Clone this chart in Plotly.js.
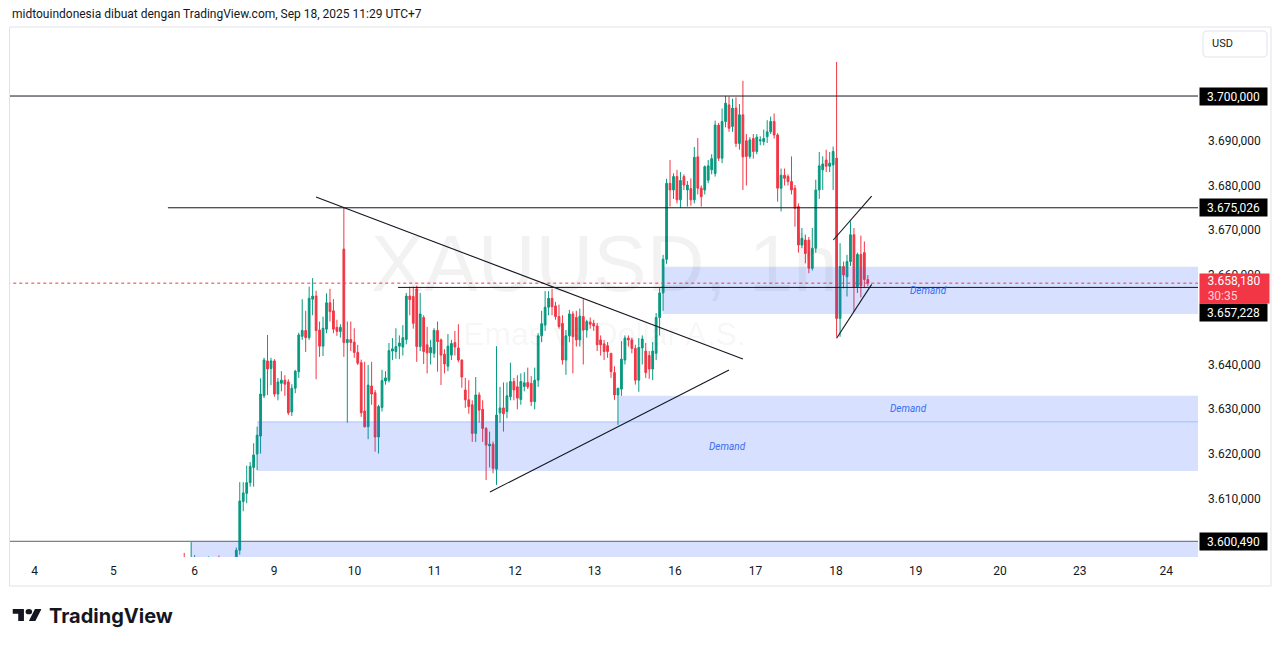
<!DOCTYPE html>
<html><head><meta charset="utf-8">
<script src="https://cdn.plot.ly/plotly-3.0.1.min.js"></script>
<style>html,body{margin:0;padding:0;background:#fff;overflow:hidden}#chart{width:1281px;height:646px}</style>
</head><body><div id="chart"></div>
<script>
// ---------- DATA (XAUUSD 1h) ----------
const firstBar = 40; // candle index of first bar
const openP = [3588,3590,3593,3591,3593,3595.5,3596.5,3595.5,3594,3595,3596.5,3595,3593.5,3592,3593,3594,3593,3595,3598.5,3609.4,
3611.2,3613.6,3617.0,3620.0,3624.0,3633.0,3640.8,3639.1,3640.8,3633.4,3635.8,3636.5,3636.1,3629.4,3634.7,3638.4,3646.3,3647.6,3646.0,3654.6,
3655.3,3647.7,3644.1,3647.9,3653.8,3652.0,3648.3,3647.4,3665.8,3644.9,3645.6,3645.0,3642.7,3640.4,3629.6,3626.1,3635.2,3633.7,3623.8,3630.4,
3636.3,3636.5,3643.0,3642.9,3644.1,3643.9,3645.6,3655.3,3655.2,3656.9,3644.0,3650.5,3644.4,3642.6,3642.5,3647.6,3645.5,3642.3,3639.6,3642.1,
3644.9,3643.7,3641.0,3634.3,3632.1,3631.0,3624.6,3633.2,3630.0,3625.7,3621.8,3622.2,3616.6,3629.2,3630.3,3629.5,3632.8,3636.2,3635.0,3632.2,
3635.1,3636.0,3635.8,3631.7,3636.5,3646.4,3648.8,3652.8,3654.8,3653.1,3650.7,3649.2,3641.0,3646.4,3651.3,3650.5,3645.5,3650.7,3647.7,3649.5,
3649.2,3648.6,3645.5,3644.6,3644.2,3642.5,3638.2,3633.2,3634.5,3641.0,3645.9,3645.5,3643.6,3636.5,3643.7,3643.0,3642.0,3639.0,3642.5,3650.5,
3656.0,3663.5,3680.5,3679.0,3682.0,3676.8,3682.0,3679.0,3679.3,3676.8,3686.4,3679.4,3679.0,3681.2,3683.5,3682.7,3693.5,3686.1,3694.3,3698.0,
3693.2,3697.3,3689.4,3695.8,3690.0,3686.5,3690.5,3687.6,3690.0,3689.8,3690.9,3692.0,3694.3,3691.3,3679.4,3682.3,3682.0,3680.9,3679.4,3675.3,
3666.7,3667.8,3667.8,3661.5,3666.0,3679.0,3683.5,3685.7,3684.3,3684.6,3686.1,3650.3,3661.9,3659.6,3663.0,3669.0,3657.4,3664.6,3665.0,3659.0];
const highP = [3592,3594,3597.9,3595,3600.3,3597.4,3597,3596,3596,3597.1,3596.6,3595.5,3597.3,3594,3595,3595,3596,3599.1,3613.7,3613.7,
3617.4,3618.2,3622.4,3626.1,3636.9,3641.5,3646.6,3641.5,3641.2,3637.0,3638.5,3637.6,3636.7,3635.6,3638.8,3647.1,3654.6,3652.0,3657.4,3659.3,
3656.5,3649.6,3650.7,3655.9,3656.9,3654.6,3650.0,3649.0,3675.0,3649.6,3649.6,3648.1,3644.4,3641.1,3640.6,3639.9,3640.6,3634.3,3631.0,3638.8,
3638.5,3644.8,3645.9,3648.1,3646.5,3648.8,3656.0,3657.4,3657.4,3657.6,3656.0,3651.0,3648.4,3645.5,3648.1,3649.6,3645.8,3643.4,3646.8,3645.5,
3647.5,3649.0,3641.1,3637.0,3636.5,3632.0,3637.2,3633.8,3632.0,3626.0,3625.0,3622.8,3644.1,3635.0,3636.0,3636.0,3640.4,3637.0,3637.6,3638.0,
3638.3,3639.3,3637.4,3639.3,3647.0,3652.0,3656.4,3656.4,3656.9,3654.0,3653.4,3651.0,3647.7,3652.2,3651.9,3652.0,3652.5,3654.6,3650.0,3650.5,
3650.0,3649.3,3646.5,3645.5,3645.0,3642.5,3639.6,3634.7,3645.2,3646.5,3646.5,3646.0,3644.4,3645.9,3646.5,3644.8,3643.0,3645.0,3651.5,3657.2,
3664.5,3681.5,3685.7,3682.7,3683.5,3683.0,3682.5,3681.0,3681.6,3688.6,3690.6,3680.0,3684.5,3685.7,3687.0,3694.5,3694.0,3697.2,3700.0,3699.9,
3699.4,3699.7,3698.2,3703.4,3691.5,3690.8,3691.5,3691.5,3691.0,3692.5,3694.6,3695.4,3696.1,3691.7,3683.8,3683.8,3682.5,3686.5,3680.1,3676.0,
3670.5,3669.0,3668.5,3670.5,3681.3,3687.5,3686.5,3688.0,3687.5,3688.7,3707.6,3667.1,3663.0,3664.5,3672.0,3670.5,3665.0,3668.8,3667.5,3660.0];
const lowP = [3586,3589,3589,3590,3592,3594,3594,3592,3593,3594,3593,3592,3591,3590,3592,3591,3592,3594,3597.5,3607.2,
3609.0,3612.7,3612.7,3616.4,3620.1,3632.5,3633.2,3635.4,3632.8,3632.0,3634.0,3633.0,3628.7,3628.5,3633.6,3637.0,3645.5,3642.8,3645.5,3651.0,
3636.7,3641.7,3641.9,3647.0,3649.6,3647.0,3646.4,3646.0,3641.7,3627.0,3643.0,3641.5,3639.9,3628.3,3625.9,3623.3,3631.0,3620.5,3620.1,3629.5,
3635.5,3636.0,3641.0,3641.3,3641.2,3642.0,3644.5,3651.0,3648.0,3640.6,3643.0,3640.1,3638.0,3640.0,3641.5,3638.4,3635.4,3638.0,3638.5,3641.0,
3642.0,3640.5,3634.8,3630.3,3629.0,3622.7,3622.7,3627.0,3622.7,3614.2,3617.0,3615.7,3613.1,3627.0,3625.0,3628.0,3632.0,3632.0,3630.0,3631.0,
3634.0,3634.5,3630.7,3630.0,3635.0,3645.0,3647.5,3651.0,3651.0,3650.0,3648.0,3640.0,3637.7,3645.0,3638.0,3644.0,3644.0,3640.0,3646.0,3648.0,
3647.5,3643.0,3642.0,3641.0,3641.5,3637.0,3632.1,3626.5,3633.0,3640.0,3644.0,3642.5,3635.5,3633.9,3640.0,3637.0,3636.8,3636.5,3641.0,3646.5,
3652.0,3662.5,3675.3,3677.0,3676.0,3675.0,3679.0,3675.3,3675.5,3676.0,3678.0,3675.3,3678.0,3680.5,3682.5,3682.0,3685.5,3685.0,3693.0,3692.0,
3692.0,3688.6,3688.0,3679.0,3680.0,3686.0,3686.0,3687.0,3689.0,3689.0,3689.5,3691.5,3690.5,3676.4,3674.2,3680.0,3680.0,3678.0,3670.8,3665.0,
3666.0,3662.6,3660.4,3661.0,3665.0,3677.0,3679.0,3683.0,3683.0,3679.0,3646.2,3646.2,3657.0,3655.2,3662.0,3651.8,3656.0,3655.0,3657.3,3657.5];
const closeP = [3590,3592,3591,3593,3596,3596.2,3595.5,3594,3595,3596.5,3595,3593.5,3592,3593,3594,3593,3595,3598.5,3609.5,3611.3,
3613.6,3617.2,3619.8,3624.2,3633.4,3641.0,3639.0,3640.8,3633.4,3636.1,3636.5,3635.6,3629.2,3634.7,3638.5,3646.6,3647.6,3646.0,3654.8,3655.3,
3647.6,3644.1,3648.1,3653.8,3651.8,3647.9,3647.4,3648.3,3644.9,3645.6,3644.9,3642.7,3640.3,3629.2,3626.1,3635.4,3633.4,3623.8,3630.6,3636.4,
3637.0,3643.1,3643.5,3644.0,3644.8,3646.0,3655.3,3654.5,3649.2,3644.0,3651.3,3642.9,3642.6,3643.8,3647.6,3645.1,3642.1,3640.1,3644.1,3644.7,
3643.9,3641.0,3637.2,3632.1,3630.6,3624.6,3633.2,3629.8,3625.7,3622.0,3622.2,3616.8,3628.7,3630.3,3629.0,3633.0,3636.2,3634.3,3632.5,3636.2,
3635.9,3635.0,3631.7,3636.5,3646.4,3649.1,3652.8,3654.8,3652.9,3650.7,3648.5,3641.0,3646.4,3651.3,3646.2,3645.5,3650.8,3647.7,3649.6,3649.0,
3648.6,3644.4,3644.4,3642.9,3642.9,3638.4,3633.2,3634.7,3641.2,3645.9,3645.5,3643.6,3636.5,3643.8,3645.7,3638.2,3639.0,3643.0,3650.5,3656.0,
3663.5,3680.5,3679.0,3682.0,3676.8,3681.1,3680.1,3680.1,3676.8,3686.3,3679.4,3677.5,3684.2,3684.4,3686.0,3693.5,3686.1,3694.3,3698.4,3692.8,
3697.3,3689.4,3695.8,3686.4,3686.5,3690.2,3687.6,3690.8,3690.2,3690.5,3692.0,3694.3,3691.3,3679.4,3682.3,3681.6,3680.9,3679.0,3674.9,3666.7,
3668.2,3664.8,3661.5,3666.0,3679.0,3684.4,3684.8,3684.3,3685.0,3687.6,3650.3,3661.9,3660.0,3663.0,3669.0,3657.4,3664.6,3657.6,3659.0,3658.18];

const dayLabels  = ['4','5','6','9','10','11','12','13','16','17','18','19','20','23','24'];
const dayTickPos = [-1.1,21.6,45,67.9,91.1,114.1,137.3,160.2,183.4,206.6,229.8,252.8,277.1,300.1,325];
const priceTicks = [3610,3620,3630,3640,3660,3670,3680,3690];

const lastPrice = 3658.18;
const countdown = '30:35';
// horizontal levels: price, start bar (null = from left edge)
const levelPrice = [3700, 3675.026, 3657.228, 3600.49];
const levelStart = [null, 37.3, 103.6, null];
// demand zones
const zoneTop    = [3661.86, 3627.2, 3633.0, 3600.49];
const zoneBottom = [3651.3, 3616.2, 3627.2, 3590.0];
const zoneStart  = [179.9, 63.0, 167.1, 43.9];
const zoneLabelAt = [256.6, 198.7, 250.6, null];
// trend lines [bar0, price0, bar1, price1]
const trendLines = [
  [79.97, 3677.43, 203.0, 3641.23],
  [130.1, 3611.51, 199.0, 3638.77],
  [229.05, 3667.82, 240.1, 3677.65],
  [230.0, 3645.85, 240.1, 3657.9]
];

// ---------- helpers ----------
const xIdx = openP.map((_, k) => firstBar + k);
const fmt = p => { const [a, b] = p.toFixed(3).split('.'); return a.replace(/\B(?=(\d{3})+(?!\d))/g, '.') + ',' + b; };
const PL = 10, PR = 1198, PT = 28, PB = 557, PW = PR - PL, PH = PB - PT;
const px = x => (x - PL) / PW;
const py = y => (PB - y) / PH;
const FONT = 'Roboto, "Liberation Sans", sans-serif';
const XMAX = 334.15;

const trace = {
  type: 'candlestick', x: xIdx, open: openP, high: highP, low: lowP, close: closeP,
  increasing: {line: {color: '#089981', width: 1}, fillcolor: '#089981'},
  decreasing: {line: {color: '#F23645', width: 1}, fillcolor: '#F23645'},
  whiskerwidth: 0, hoverinfo: 'skip', showlegend: false
};

const shapes = [];
zoneTop.forEach((t, k) => {
  shapes.push({type: 'rect', xref: 'x', yref: 'y', x0: zoneStart[k], x1: XMAX + 5, y0: zoneBottom[k], y1: t,
    fillcolor: 'rgba(41,98,255,0.19)', line: {width: 0}});
});
shapes.push({type: 'line', xref: 'x', yref: 'y', x0: zoneStart[1], x1: XMAX + 5, y0: zoneTop[1], y1: zoneTop[1],
  line: {color: 'rgba(41,98,255,0.18)', width: 1.5}});
levelPrice.forEach((p, k) => {
  shapes.push({type: 'line', xref: 'x', yref: 'y', x0: levelStart[k] === null ? -9 : levelStart[k], x1: XMAX + 1, y0: p, y1: p,
    line: {color: k === 3 ? '#5d606b' : '#131722', width: 1}});
});
shapes.push({type: 'line', xref: 'x', yref: 'y', x0: -9, x1: XMAX + 1, y0: lastPrice, y1: lastPrice,
  line: {color: '#F23645', width: 1, dash: 'dot'}});
trendLines.forEach(t => shapes.push({type: 'line', xref: 'x', yref: 'y', x0: t[0], y0: t[1], x1: t[2], y1: t[3],
  line: {color: '#131722', width: 1.1}}));
shapes.push({type: 'rect', xref: 'paper', yref: 'paper', x0: px(9.5), x1: px(1271), y0: py(586), y1: py(27),
  line: {color: '#e0e3eb', width: 1}, fillcolor: 'rgba(0,0,0,0)'});
function rr(x0, y0, x1, y1, r) {
  const p = (x, y) => px(x).toFixed(5) + ',' + py(y).toFixed(5);
  return `M${p(x0 + r, y0)} L${p(x1 - r, y0)} Q${p(x1, y0)} ${p(x1, y0 + r)} L${p(x1, y1 - r)} Q${p(x1, y1)} ${p(x1 - r, y1)} L${p(x0 + r, y1)} Q${p(x0, y1)} ${p(x0, y1 - r)} L${p(x0, y0 + r)} Q${p(x0, y0)} ${p(x0 + r, y0)} Z`;
}
shapes.push({type: 'path', xref: 'paper', yref: 'paper', path: rr(1203, 31, 1267, 57, 4),
  line: {color: '#e0e3eb', width: 1}, fillcolor: '#ffffff'});

const annotations = [];
annotations.push({text: 'midtouindonesia dibuat dengan TradingView.com, Sep 18, 2025 11:29 UTC+7', xref: 'paper', yref: 'paper',
  x: px(10), y: py(14), xanchor: 'left', yanchor: 'middle', showarrow: false, font: {family: FONT, size: 12, color: '#131722'}});
annotations.push({text: 'XAUUSD, 1h', xref: 'paper', yref: 'paper', x: 0.5, y: py(263), xanchor: 'center', yanchor: 'middle',
  showarrow: false, font: {family: '"Liberation Sans", Arial, sans-serif', size: 80, color: 'rgba(0,0,0,0.05)'}});
annotations.push({text: 'Emas vs Dollar A.S.', xref: 'paper', yref: 'paper', x: 0.5, y: py(333.5), xanchor: 'center', yanchor: 'middle',
  showarrow: false, font: {family: '"Liberation Sans", Arial, sans-serif', size: 32, color: 'rgba(0,0,0,0.05)'}});
zoneLabelAt.forEach((xl, k) => {
  if (xl === null) return;
  annotations.push({text: '<i>Demand</i>', xref: 'x', yref: 'y', x: xl, y: (zoneTop[k] + zoneBottom[k]) / 2, showarrow: false,
    xanchor: 'center', yanchor: 'middle', font: {family: FONT, size: 10, color: '#3a6df0'}});
});
const levelShift = [0, 0, -24.6, 0];
levelPrice.forEach((p, k) => {
  annotations.push({text: fmt(p), xref: 'paper', yref: 'y', x: 1, y: p, xanchor: 'left', yanchor: 'middle', xshift: 1, yshift: levelShift[k],
    showarrow: false, bgcolor: '#000000', width: 63, height: 13, borderpad: 2, align: 'center',
    font: {family: FONT, size: 12, color: '#ffffff'}});
});
annotations.push({text: '\u2002' + fmt(lastPrice) + '<br>\u2002<span style="color:#ffd2d7">' + countdown + '</span>', xref: 'paper', yref: 'y',
  x: 1, y: lastPrice, xanchor: 'left', yanchor: 'middle', xshift: 1, yshift: -5, showarrow: false, bgcolor: '#F23645',
  width: 66, height: 26, borderpad: 1.5, align: 'left', font: {family: FONT, size: 12, color: '#ffffff'}});
annotations.push({text: 'USD', xref: 'paper', yref: 'paper', x: px(1222), y: py(44), xanchor: 'center', yanchor: 'middle',
  showarrow: false, font: {family: FONT, size: 11, color: '#131722'}});
annotations.push({text: 'TradingView', xref: 'paper', yref: 'paper', x: px(47), y: py(616), xanchor: 'left', yanchor: 'middle',
  showarrow: false, font: {family: 'Inter, Roboto, sans-serif', size: 20, weight: 700, color: '#131722'}});

const logoSvg = '<svg xmlns="http://www.w3.org/2000/svg" viewBox="0 4 35.5 18" preserveAspectRatio="none"><path fill="#131722" d="M14 22H7V11H0V4h14v18zM28 22h-8l7.5-18h8L28 22z"/><circle fill="#131722" cx="20" cy="8" r="4"/></svg>';

const layout = {
  width: 1281, height: 646,
  margin: {l: PL, r: 1281 - PR, t: PT, b: 646 - PB, pad: 0},
  paper_bgcolor: '#ffffff', plot_bgcolor: '#ffffff',
  showlegend: false, boxgap: 0.28,
  xaxis: {range: [-8.21, XMAX], tickmode: 'array', tickvals: dayTickPos, ticktext: dayLabels, showgrid: false, zeroline: false,
    showline: false, ticks: '', ticklabelstandoff: 5, tickfont: {family: FONT, size: 12, color: '#131722'},
    rangeslider: {visible: false}, fixedrange: true},
  yaxis: {side: 'right', range: [3596.98, 3715.2], tickmode: 'array', tickvals: priceTicks, ticktext: priceTicks.map(fmt),
    showgrid: false, zeroline: false, showline: false, ticks: '', ticklabelstandoff: 9,
    tickfont: {family: FONT, size: 12, color: '#131722'}, fixedrange: true},
  shapes: shapes, annotations: annotations,
  images: [{source: 'data:image/svg+xml;charset=utf-8,' + encodeURIComponent(logoSvg), xref: 'paper', yref: 'paper',
    x: px(12.5), y: py(609), sizex: 29 / PW, sizey: 12 / PH, xanchor: 'left', yanchor: 'top', sizing: 'stretch', layer: 'above'}]
};
Plotly.newPlot('chart', [trace], layout, {staticPlot: true, displayModeBar: false});
</script></body></html>
